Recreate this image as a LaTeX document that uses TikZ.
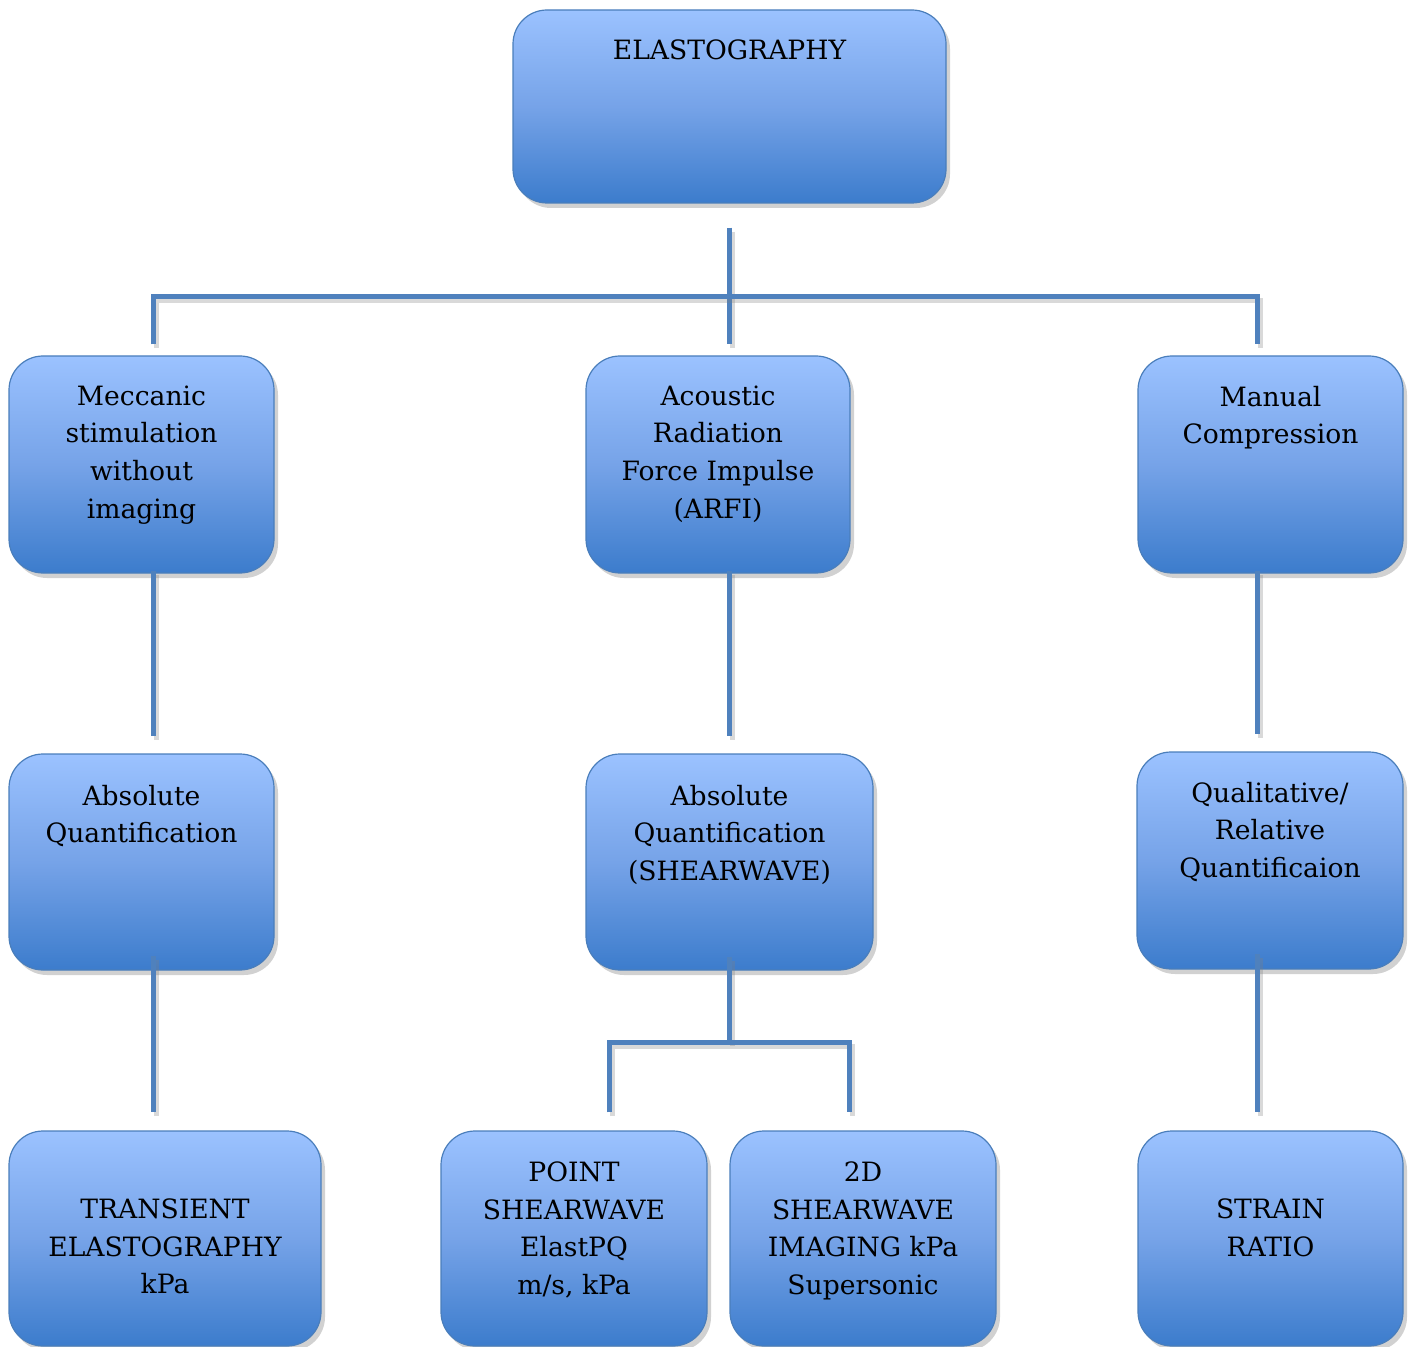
\documentclass[tikz,border=0pt]{standalone}
\usepackage{fontspec}
\setmainfont{DejaVu Serif}
\usetikzlibrary{shadows}
\definecolor{boxtop}{RGB}{155,194,255}
\definecolor{boxmid}{RGB}{118,163,232}
\definecolor{boxbot}{RGB}{60,124,204}
\definecolor{edgecol}{RGB}{74,126,187}
\definecolor{conncol}{RGB}{79,129,189}
\begin{document}
\begin{tikzpicture}[x=0.5pt,y=-0.5pt,
 box/.style={rounded corners=17pt, draw=edgecol, line width=0.6pt,
   top color=boxtop, bottom color=boxbot, middle color=boxmid,
   drop shadow={shadow xshift=2pt, shadow yshift=-2.5pt, opacity=0.3, fill=black!60},
   inner sep=0pt},
 txt/.style={anchor=north, align=center, inner sep=0pt, font=\fontsize{13.3}{18.8}\selectfont},
 conn/.style={draw=conncol, line width=2.5pt,
   preaction={draw=black!50, opacity=0.3, line width=2.5pt, transform canvas={shift={(1.5pt,-2pt)}}}}
]
\useasboundingbox (0,0) rectangle (1412,1347);

% boxes
\node[box, minimum width=216.5pt, minimum height=96.5pt] (top) at (729.5,106.5) {};
\node[box, minimum width=132.5pt, minimum height=108.5pt] (r2a) at (141.5,464.5) {};
\node[box, minimum width=132pt, minimum height=108.5pt] (r2b) at (718,464.5) {};
\node[box, minimum width=132.5pt, minimum height=108.5pt] (r2c) at (1270.5,464.5) {};
\node[box, minimum width=132.5pt, minimum height=108pt] (r3a) at (141.5,862) {};
\node[box, minimum width=143.5pt, minimum height=108pt] (r3b) at (729.5,862) {};
\node[box, minimum width=133pt, minimum height=108.5pt] (r3c) at (1270,860.5) {};
\node[box, minimum width=156pt, minimum height=107.5pt] (r4a) at (165,1238.5) {};
\node[box, minimum width=133pt, minimum height=107.5pt] (r4b) at (574,1238.5) {};
\node[box, minimum width=133pt, minimum height=107.5pt] (r4c) at (863,1238.5) {};
\node[box, minimum width=132.5pt, minimum height=107.5pt] (r4d) at (1270.5,1238.5) {};

% texts
\node[txt] (t0) at ([yshift=-15pt]top.north) {ELASTOGRAPHY};
\node[txt] (t2a) at ([yshift=-15pt]r2a.north) {Meccanic\\stimulation\\without\\imaging};
\node[txt] (t2b) at ([yshift=-15pt]r2b.north) {Acoustic\\Radiation\\Force Impulse\\(ARFI)};
\node[txt] (t2c) at ([yshift=-15pt]r2c.north) {Manual\\Compression};
\node[txt] (t3a) at ([yshift=-15.5pt]r3a.north) {Absolute\\Quantification};
\node[txt] (t3b) at ([yshift=-15.5pt]r3b.north) {Absolute\\Quantification\\(SHEARWAVE)};
\node[txt] (t3c) at ([yshift=-15pt]r3c.north) {Qualitative/\\Relative\\Quantificaion};
\node[txt] (t4a) at ([yshift=-34pt]r4a.north) {TRANSIENT\\ELASTOGRAPHY\\kPa};
\node[txt] (t4b) at ([yshift=-15.5pt]r4b.north) {POINT\\SHEARWAVE\\ElastPQ\\m/s, kPa};
\node[txt] (t4c) at ([yshift=-15.5pt]r4c.north) {2D\\SHEARWAVE\\IMAGING kPa\\Supersonic};
\node[txt] (t4d) at ([yshift=-34pt]r4d.north) {STRAIN\\RATIO};

% bus coordinates
\coordinate (bL) at (153,297);
\coordinate (bM) at (729.5,297);
\coordinate (bR) at (1257,297);
\coordinate (b2) at (729.5,1042);
\coordinate (b2L) at (609,1042);
\coordinate (b2R) at (849,1042);

% connectors
\draw[conn] ([yshift=-12pt]top.south) -- ([yshift=5.5pt]r2b.north -| bM);
\draw[conn] ([yshift=5.5pt]r2a.north -| bL) -- (bL) -- (bR) -- ([yshift=5.5pt]r2c.north -| bR);

\draw[conn] ([yshift=1.5pt]r2a.south -| bL) -- ([yshift=8.5pt]r3a.north -| bL);
\draw[conn] ([yshift=1.5pt]r2b.south -| bM) -- ([yshift=8.5pt]r3b.north -| bM);
\draw[conn] ([yshift=1.5pt]r2c.south -| bR) -- ([yshift=8.5pt]r3c.north -| bR);

\draw[conn] ([yshift=7.5pt]r3a.south -| bL) -- ([yshift=9pt]r4a.north -| bL);
\draw[conn] ([yshift=7pt]r3b.south -| b2) -- (b2);
\draw[conn] ([yshift=9pt]r4b.north -| b2L) -- (b2L) -- (b2R) -- ([yshift=9pt]r4c.north -| b2R);
\draw[conn] ([yshift=8pt]r3c.south -| bR) -- ([yshift=9pt]r4d.north -| bR);
\end{tikzpicture}
\end{document}
